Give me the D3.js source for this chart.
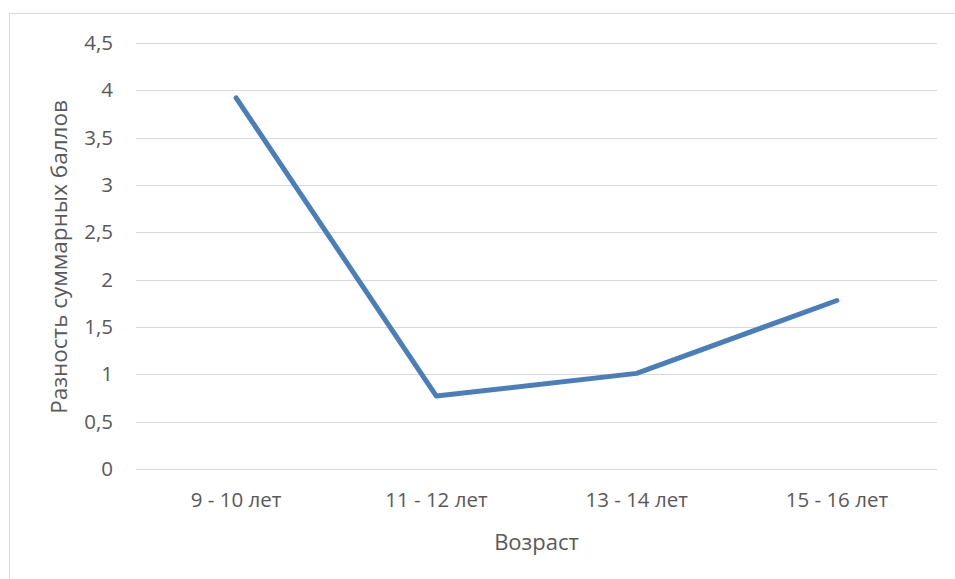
<!DOCTYPE html>
<html lang="ru">
<head>
    <meta charset="UTF-8">
    <title>Разность суммарных баллов</title>
    <script src="https://d3js.org/d3.v7.min.js"></script>
    <style>
        body { margin: 0; background: #fff; }
    </style>
</head>
<body>
<svg id="chart" width="955" height="579"></svg>
<script>
    // data
    const ageGroups = ["9 - 10 лет", "11 - 12 лет", "13 - 14 лет", "15 - 16 лет"];
    const scoreDiff = [3.92, 0.77, 1.01, 1.78];
    const yTicks = [0, 0.5, 1, 1.5, 2, 2.5, 3, 3.5, 4, 4.5];

    const font = "'Open Sans', 'Noto Sans', sans-serif";
    const textColor = "#595959";

    const svg = d3.select("#chart");
    const margin = {left: 136, right: 18, top: 43, bottom: 110};
    const width = 955 - margin.left - margin.right;
    const height = 579 - margin.top - margin.bottom;

    // chart frame
    svg.append("path")
        .attr("d", "M9.5,579 V13.5 H955")
        .attr("fill", "none")
        .attr("stroke", "#d9d9d9")
        .attr("stroke-width", 1);

    const g = svg.append("g").attr("transform", `translate(${margin.left},${margin.top})`);

    const x = d3.scaleBand().domain(ageGroups).range([0, width]);
    const y = d3.scaleLinear().domain([0, 4.5]).range([height, 0]);

    // gridlines
    g.append("g")
        .selectAll("line")
        .data(yTicks)
        .join("line")
        .attr("x1", 0).attr("x2", width)
        .attr("y1", d => Math.round(y(d)) + 0.5)
        .attr("y2", d => Math.round(y(d)) + 0.5)
        .attr("stroke", "#d9d9d9")
        .attr("stroke-width", 1);

    const yAxis = g.append("g")
        .call(d3.axisLeft(y).tickValues(yTicks).tickSize(0).tickPadding(23)
            .tickFormat(d => String(d).replace(".", ",")));
    yAxis.select(".domain").remove();

    const xAxis = g.append("g")
        .attr("transform", `translate(0,${height})`)
        .call(d3.axisBottom(x).tickSize(0).tickPadding(23));
    xAxis.select(".domain").remove();

    g.selectAll(".tick text")
        .attr("font-family", font)
        .attr("font-size", 20.5)
        .attr("fill", textColor);

    const line = d3.line()
        .x((d, i) => x(ageGroups[i]) + x.bandwidth() / 2)
        .y(d => y(d));

    g.append("path")
        .datum(scoreDiff)
        .attr("d", line)
        .attr("fill", "none")
        .attr("stroke", "#4a7ebb")
        .attr("stroke-width", 5)
        .attr("stroke-linecap", "round")
        .attr("stroke-linejoin", "round");

    svg.append("text")
        .attr("x", margin.left + width / 2)
        .attr("y", 542)
        .attr("dy", "0.35em")
        .attr("text-anchor", "middle")
        .attr("font-family", font)
        .attr("font-size", 22)
        .attr("fill", textColor)
        .text("Возраст");

    svg.append("text")
        .attr("transform", "translate(59,257) rotate(-90)")
        .attr("dy", "0.35em")
        .attr("text-anchor", "middle")
        .attr("font-family", font)
        .attr("font-size", 22.5)
        .attr("fill", textColor)
        .text("Разность суммарных баллов");
</script>
</body>
</html>
